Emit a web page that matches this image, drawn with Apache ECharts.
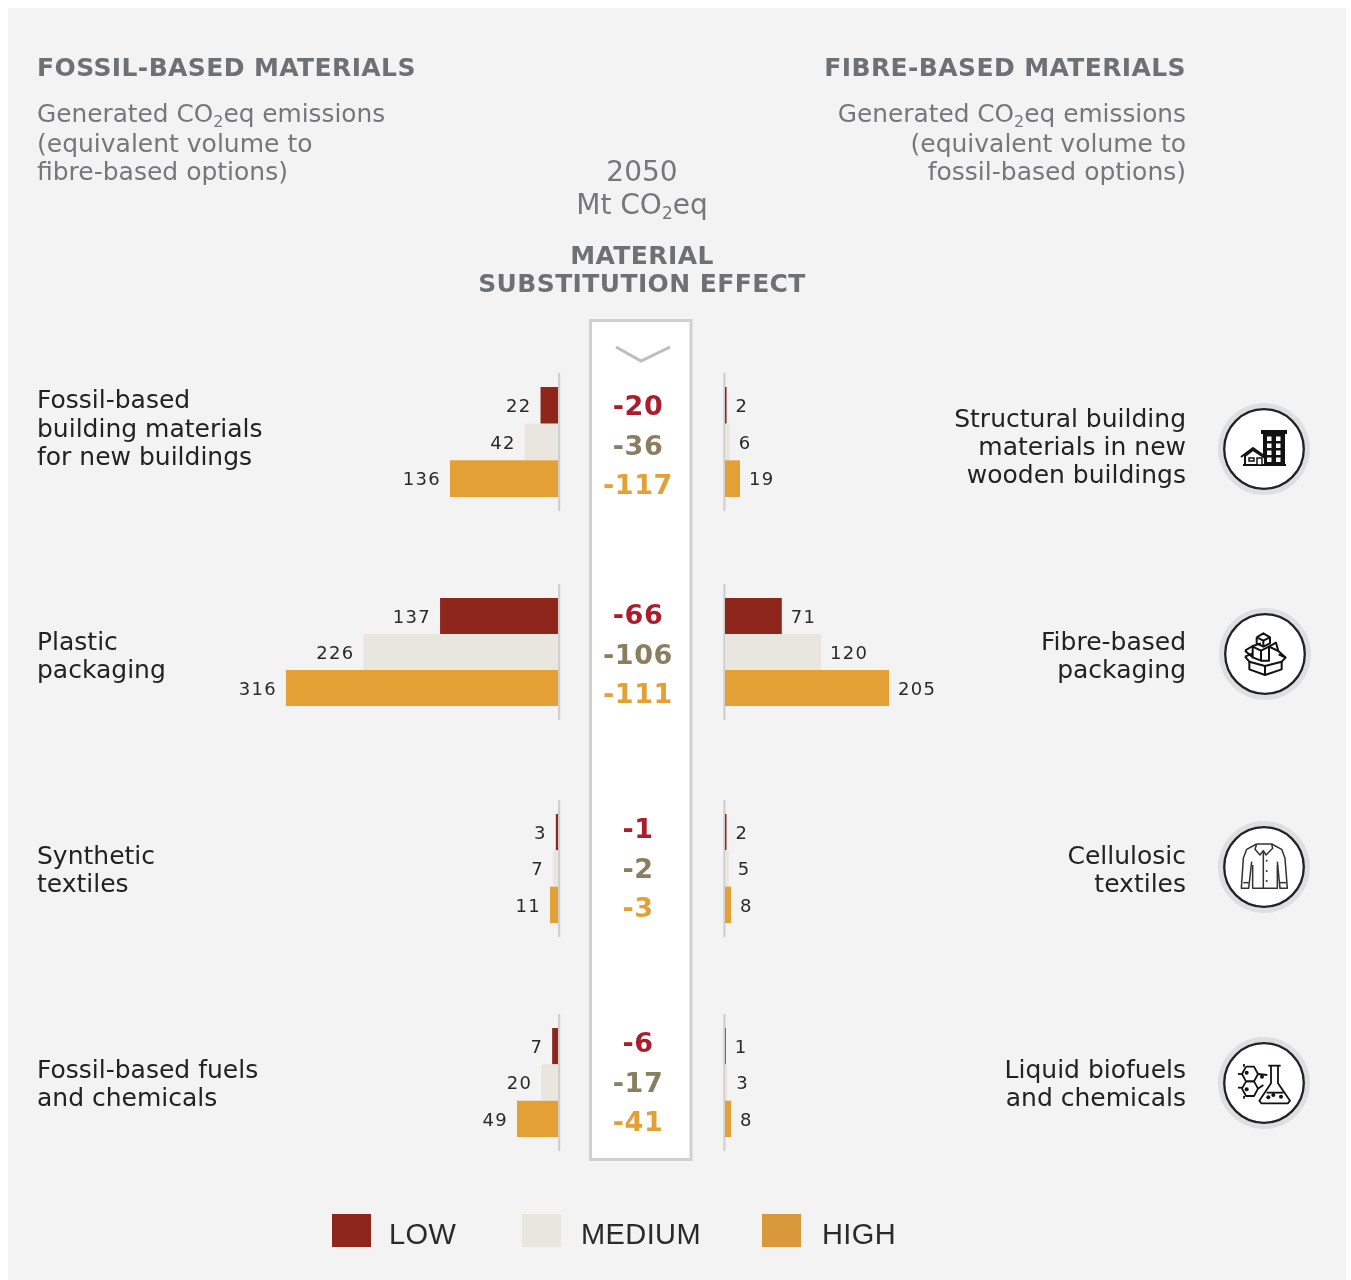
<!DOCTYPE html>
<html><head><meta charset="utf-8">
<style>html,body{margin:0;padding:0;background:#fff}#c{width:1351px;height:1280px}</style>
<script src="https://cdn.jsdelivr.net/npm/echarts@6/dist/echarts.min.js"></script>
</head><body><div id="c"></div>
<script>
const levels = ['LOW','MEDIUM','HIGH'];
const fossilCategories = ['Fossil-based building materials for new buildings','Plastic packaging','Synthetic textiles','Fossil-based fuels and chemicals'];
const fibreCategories = ['Structural building materials in new wooden buildings','Fibre-based packaging','Cellulosic textiles','Liquid biofuels and chemicals'];
const fossilLow = [22,137,3,7];
const fossilMedium = [42,226,7,20];
const fossilHigh = [136,316,11,49];
const fibreLow = [2,71,2,1];
const fibreMedium = [6,120,5,3];
const fibreHigh = [19,205,8,8];
const effectLow = [-20,-66,-1,-6];
const effectMedium = [-36,-106,-2,-17];
const effectHigh = [-117,-111,-3,-41];

// the reference sets its text slightly tracked; ECharts has no option for it
const nativeFillText = CanvasRenderingContext2D.prototype.fillText;
CanvasRenderingContext2D.prototype.fillText = function (t, x, y, m) {
  const f = this.font; let ls = '0px';
  if (/\b18px/.test(f)) ls = '1.3px';
  else if (/(bold|700).*\b25px/.test(f)) ls = '0.4px';
  else if (/(bold|700).*\b27px/.test(f)) ls = '0.6px';
  else if (/\b29px/.test(f)) ls = '0.4px';
  this.letterSpacing = ls;
  return m === undefined ? nativeFillText.call(this, t, x, y) : nativeFillText.call(this, t, x, y, m);
};

const FONT = '"DejaVu Sans", sans-serif';
const barColors = ['#8F261B','#E9E6E0','#E3A035'];
const effectColors = ['#A91E2A','#8B7D60','#E3A035'];
const legendColors = ['#8F261B','#E9E6E0','#DA983D'];
const fossilData = [fossilLow,fossilMedium,fossilHigh];
const fibreData = [fibreLow,fibreMedium,fibreHigh];
const effectData = [effectLow,effectMedium,effectHigh];

// layout per group
const barTop = [387,598,814,1028];
const barH = [110,108,109,109];
const ruleTop = [373,584,800,1014];
const ruleH = [138,136,137,137];
const effTop = [388.5,597.5,811.5,1025.5];
const effH = 118.5;
const fossilScale = [.794,.861,.727,.837];
const fibreScale = [.79,.8,.75,.75];
const fossilBase = 558, fibreBase = 725;

const grid=[],xAxis=[],yAxis=[],series=[];
function addGrid(g,x,y){grid.push(g);const i=grid.length-1;xAxis.push(Object.assign({gridIndex:i,show:false},x));yAxis.push(Object.assign({gridIndex:i,show:false,inverse:true,type:'category',data:levels},y));return i;}
for(let g=0;g<4;g++){
  const lm=Math.max(...fossilData.map(a=>a[g])), rm=Math.max(...fibreData.map(a=>a[g]));
  const lw=lm*fossilScale[g], rw=rm*fibreScale[g];
  const li=addGrid({left:fossilBase-lw,width:lw,top:barTop[g],height:barH[g]},{type:'value',min:0,max:lm,inverse:true});
  const ri=addGrid({left:fibreBase,width:rw,top:barTop[g],height:barH[g]},{type:'value',min:0,max:rm});
  levels.forEach((name,k)=>{
    const mk=(arr,idx,pos,dist)=>({type:'bar',name,xAxisIndex:idx,yAxisIndex:idx,barWidth:'100%',barGap:'-100%',
      data:levels.map((_,j)=>j===k?arr[k][g]:null),
      itemStyle:{color:barColors[k]},
      label:{show:true,position:pos,distance:dist,offset:[0,2],color:'#2a2a2a',fontFamily:FONT,fontSize:18},
      emphasis:{disabled:true},silent:true});
    series.push(mk(fossilData,li,'left',9));
    series.push(mk(fibreData,ri,'right',9));
  });
  const ci=addGrid({left:584,width:108,top:effTop[g],height:effH},{type:'value',min:-1,max:1});
  series.push({type:'scatter',xAxisIndex:ci,yAxisIndex:ci,symbolSize:0,silent:true,itemStyle:{opacity:1},
    data:levels.map((n,k)=>({value:[0,k,effectData[k][g]],label:{color:effectColors[k]}})),
    label:{show:true,position:'inside',opacity:1,fontFamily:FONT,fontWeight:'bold',fontSize:27,formatter:p=>String(p.value[2])}});
}

const els=[];
const rect=(x,y,w,h,fill,extra)=>els.push(Object.assign({type:'rect',shape:{x,y,width:w,height:h},style:{fill}},extra||{}));
const txt=(x,y,t,o)=>{o=o||{};els.push({type:'text',z:5,style:{x,y:y+(o.bold?2:1),text:t,align:o.align||'left',verticalAlign:'middle',fill:o.fill||'#222',
  font:(o.bold?'bold ':'')+(o.size||25)+'px '+FONT,rich:o.rich}});};
const line=(pts,w,stroke,closed)=>els.push({type:closed?'polygon':'polyline',z:6,shape:{points:pts},style:{stroke:stroke||'#111',lineWidth:w||1.5,fill:closed&&closed!==true?closed:null,lineJoin:'round'}});
const circ=(cx,cy,r,fill,stroke,lw)=>els.push({type:'circle',z:6,shape:{cx,cy,r},style:{fill:fill||null,stroke:stroke||null,lineWidth:lw||0}});

rect(8,8,1338,1272,'#F3F3F3',{z:-3});
// panel
rect(590.5,320.5,100.5,839,'#fff',{z:-2,style:{fill:'#fff',stroke:'#D0D0D0',lineWidth:3}});
els.push({type:'polyline',z:3,shape:{points:[[616,347],[641,361],[670,347]]},style:{stroke:'#BDBDBD',lineWidth:3,fill:null}});
// rules
for(let g=0;g<4;g++){rect(fossilBase,ruleTop[g],2.2,ruleH[g],'#CFCFCF',{z:-1});rect(fibreBase-1.7,ruleTop[g],2.2,ruleH[g],'#CFCFCF',{z:-1});}

const HEAD='#6F7072', BODY='#757779';
const subRich={m:{fontFamily:FONT,fontSize:24.8,fill:BODY,lineHeight:30},s:{fontFamily:FONT,fontSize:16,fill:BODY,lineHeight:30,verticalAlign:'bottom'}};
txt(37,67,'FOSSIL-BASED MATERIALS',{bold:true,fill:HEAD});
txt(1186,67,'FIBRE-BASED MATERIALS',{bold:true,fill:HEAD,align:'right'});
txt(37,115,'{m|Generated CO}{s|2}{m|eq emissions}',{rich:subRich,fill:BODY});
txt(37,144,'(equivalent volume to',{fill:BODY});
txt(37,172,'fibre-based options)',{fill:BODY});
txt(1186,115,'{m|Generated CO}{s|2}{m|eq emissions}',{rich:subRich,fill:BODY,align:'right'});
txt(1186,144,'(equivalent volume to',{fill:BODY,align:'right'});
txt(1186,172,'fossil-based options)',{fill:BODY,align:'right'});
txt(642,173,'2050',{fill:BODY,align:'center',size:28});
const subRich2={m:{fontFamily:FONT,fontSize:28,fill:BODY,lineHeight:32},s:{fontFamily:FONT,fontSize:17,fill:BODY,lineHeight:32,verticalAlign:'bottom'}};
txt(642,206,'{m|Mt CO}{s|2}{m|eq}',{rich:subRich2,fill:BODY,align:'center'});
txt(642,255,'MATERIAL',{bold:true,fill:HEAD,align:'center'});
txt(642,283,'SUBSTITUTION EFFECT',{bold:true,fill:HEAD,align:'center'});

[['Fossil-based','building materials','for new buildings'],['Plastic','packaging'],['Synthetic','textiles'],['Fossil-based fuels','and chemicals']].forEach((ls,g)=>{
  const y0=[400.5,642,856,1070][g]; ls.forEach((l,i)=>txt(37,y0+i*28.5,l));
});
[['Structural building','materials in new','wooden buildings'],['Fibre-based','packaging'],['Cellulosic','textiles'],['Liquid biofuels','and chemicals']].forEach((ls,g)=>{
  const y0=[419,642,856,1070][g]; ls.forEach((l,i)=>txt(1186,y0+i*28.2,l,{align:'right'}));
});

// icons
const centers=[[1264,449],[1265,654],[1264,867],[1264,1083]];
centers.forEach(([x,y])=>{circ(x,y,46,'#DEDFE0');circ(x,y,39.8,'#fff','#222',2.3);});
// building icon
(function(){
  rect(1261,430,26,4,'#111',{z:6});
  rect(1263,434,22,31,'#111',{z:6});
  [0,1,2,3].forEach(r=>[0,1].forEach(c=>rect(1267+c*9,436.5+r*7,4.5,4.5,'#fff',{z:7})));
  line([[1241,457],[1253,448],[1270,460]],2);
  els.push({type:'polygon',z:6,shape:{points:[[1245,456],[1253,450],[1265,458],[1265,465],[1245,465]]},style:{fill:'#fff',stroke:'#111',lineWidth:2}});
  rect(1249,458,5,3,'#fff',{z:7,style:{fill:'#fff',stroke:'#111',lineWidth:1.5}});
  rect(1257,458,5,7,'#fff',{z:7,style:{fill:'#fff',stroke:'#111',lineWidth:1.5}});
  line([[1243,465],[1286,465]],2);
})();
// boxes icon
(function(){
  const P=(x,y)=>[1200+x/3,390+y/3];
  const L=a=>line(a.map(p=>P(p[0],p[1])),2);
  L([[148,815],[148,838],[195,855],[245,838],[245,815]]);
  L([[195,828],[195,855]]);
  L([[135,800],[148,815],[195,828],[245,815],[257,803],[236,793]]);
  L([[135,800],[158,790]]);
  L([[135,782],[158,768],[183,760]]);
  L([[135,782],[158,802],[158,770]]);
  L([[158,770],[183,782],[183,812],[158,802]]);
  L([[183,782],[207,770],[207,812],[183,812]]);
  L([[207,770],[235,783],[257,803]]);
  L([[207,770],[228,758],[235,783]]);
  L([[170,742],[190,730],[210,742],[210,760],[190,770],[170,760],[170,742]]);
  L([[170,742],[190,752],[210,742]]);
  L([[190,752],[190,770]]);
})();
// shirt icon
(function(){
  const P=(x,y)=>[1200+x/3,810+y/3];
  const L=a=>line(a.map(p=>P(p[0],p[1])),1.5,'#333');
  L([[170,102],[140,118],[130,145],[124,235],[146,235],[155,155]]);
  L([[215,102],[245,118],[255,145],[262,235],[240,235],[232,155]]);
  L([[158,165],[158,235],[232,235],[232,165]]);
  L([[170,102],[215,102],[218,115],[198,135],[190,122],[180,135],[165,118],[170,102]]);
  L([[190,122],[190,235]]);
  [[200,152],[200,183],[200,213]].forEach(p=>{const q=P(p[0],p[1]);circ(q[0],q[1],1,'#333');});
  L([[130,218],[146,218]]);L([[240,218],[258,218]]);
})();
// chemistry icon
(function(){
  const P=(x,y)=>[1200+x/3,810+y/3];
  const L=a=>line(a.map(p=>P(p[0],p[1])),1.8);
  const hex=(cx,cy)=>L([[cx-12,cy-22],[cx+12,cy-22],[cx+24,cy],[cx+12,cy+22],[cx-12,cy+22],[cx-24,cy],[cx-12,cy-22]]);
  hex(150,792);hex(150,836);
  L([[114,792],[126,792]]);L([[114,833],[126,833]]);L([[132,762],[132,770]]);L([[132,858],[132,866]]);
  L([[174,792],[202,795]]);L([[174,836],[190,825]]);
  L([[205,767],[242,767]]);
  L([[213,767],[213,820],[178,872],[184,880],[264,880],[270,872],[234,820],[234,767]]);
  L([[200,848],[250,848]]);
  [[205,862],[220,855],[243,860],[140,788],[140,838],[186,800]].forEach(p=>{const q=P(p[0],p[1]);circ(q[0],q[1],2,'#111');});
})();

const legendLeft=[332,522,762];
const legendPad=[13,15,16];
const legend=levels.map((n,k)=>({left:legendLeft[k],top:1214,padding:0,itemWidth:39,itemHeight:33,icon:'rect',selectedMode:false,
  data:[{name:n,itemStyle:{color:legendColors[k]}}],
  formatter:'{a|{name}}',
  textStyle:{rich:{a:{fontFamily:'"Liberation Sans", sans-serif',fontSize:29,color:'#2a2a2a',padding:[10,0,0,legendPad[k]]}}}}));

const chart=echarts.init(document.getElementById('c'),null,{width:1351,height:1280});
chart.setOption({animation:false,backgroundColor:'#fff',tooltip:{show:false},grid,xAxis,yAxis,series,legend,graphic:{elements:els}});
</script></body></html>
